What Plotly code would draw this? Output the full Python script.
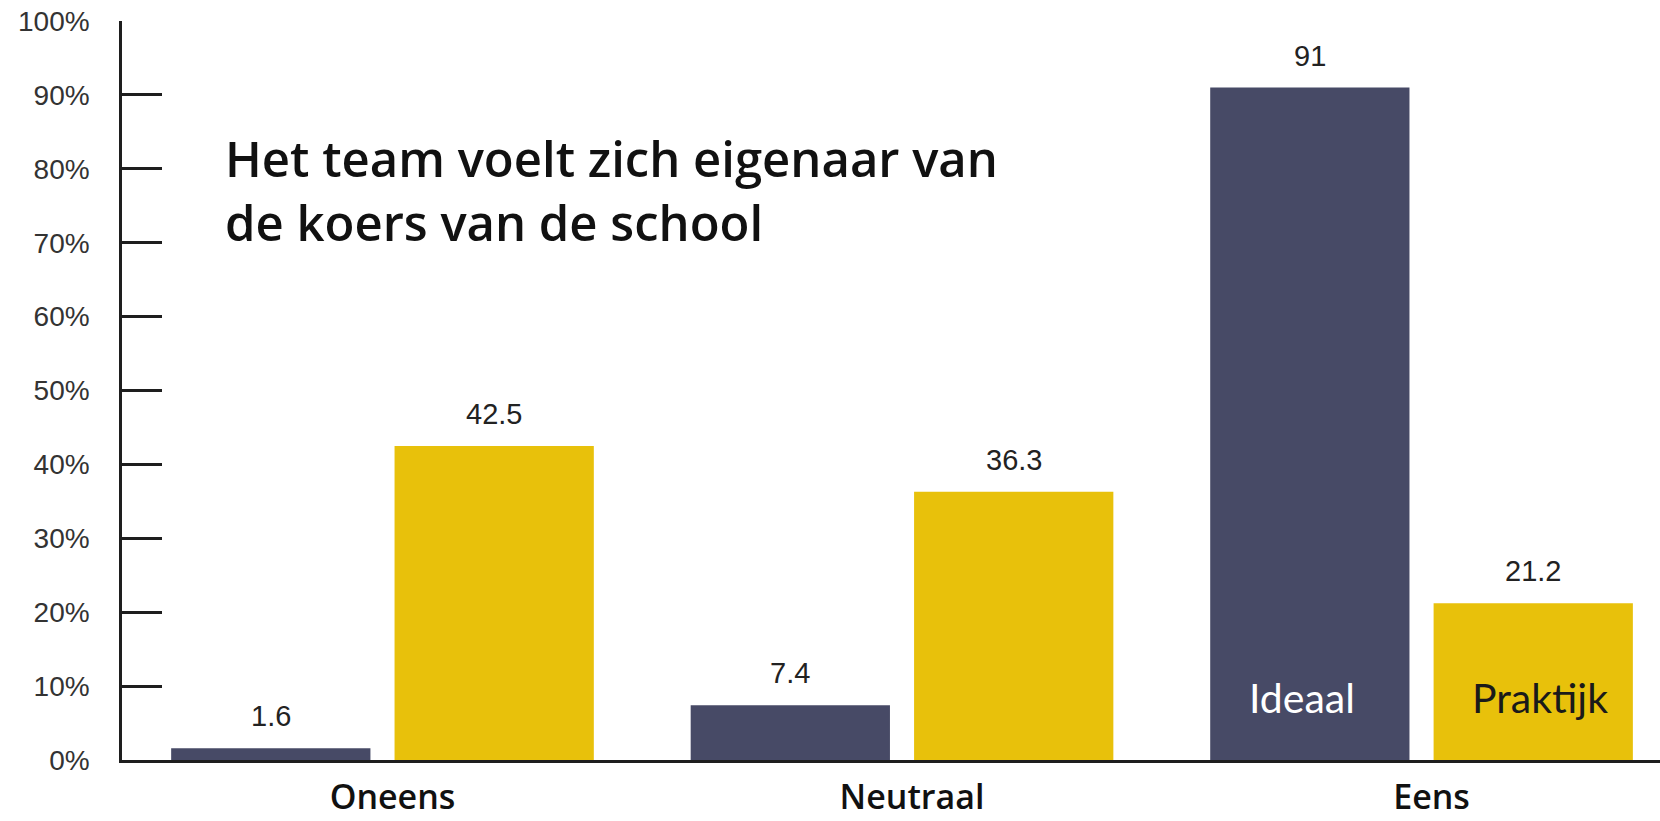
import plotly.graph_objects as go

# ---- data ----
categories = ["Oneens", "Neutraal", "Eens"]
series_names = ["Ideaal", "Praktijk"]
ideaal = [1.6, 7.4, 91]
praktijk = [42.5, 36.3, 21.2]
ideaal_labels = ["1.6", "7.4", "91"]
praktijk_labels = ["42.5", "36.3", "21.2"]
y_tickvals = [0, 10, 20, 30, 40, 50, 60, 70, 80, 90, 100]
y_ticktext = ["0%", "10%", "20%", "30%", "40%", "50%", "60%", "70%", "80%", "90%", "100%"]
title_text = "Het team voelt zich eigenaar van<br>de koers van de school"

# ---- style ----
DARK = "#474a66"
GOLD = "#e8c10b"
AXIS = "#1e1e1e"
BAR_OFFSET = 0.215  # half distance between paired bar centres (category units)
VALUE_FONT = dict(family="Liberation Sans, Arial, sans-serif", size=29, color="#222222")

fig = go.Figure()
fig.add_bar(x=categories, y=ideaal, name=series_names[0],
            marker=dict(color=DARK, line=dict(width=0)))
fig.add_bar(x=categories, y=praktijk, name=series_names[1],
            marker=dict(color=GOLD, line=dict(width=0)))

annotations = []
for i, (v, t) in enumerate(zip(ideaal, ideaal_labels)):
    annotations.append(dict(x=i - BAR_OFFSET, y=v, xref="x", yref="y", text=t,
                            showarrow=False, yanchor="bottom", yshift=14,
                            font=VALUE_FONT))
for i, (v, t) in enumerate(zip(praktijk, praktijk_labels)):
    annotations.append(dict(x=i + BAR_OFFSET, y=v, xref="x", yref="y", text=t,
                            showarrow=False, yanchor="bottom", yshift=14,
                            font=VALUE_FONT))

# series labels inside the "Eens" bars
annotations.append(dict(x=2 - 0.23, y=8.4, xref="x", yref="y", text=series_names[0],
                        showarrow=False, yanchor="middle",
                        font=dict(family="Lato, sans-serif", size=41, color="white",
                                  weight=400)))
annotations.append(dict(x=2 + 0.228, y=8.4, xref="x", yref="y", text=series_names[1],
                        showarrow=False, yanchor="middle",
                        font=dict(family="Lato, sans-serif", size=41, color="#1a1a1a",
                                  weight=400)))

# title inside plot
annotations.append(dict(x=0.0655, y=0.862, xref="paper", yref="paper",
                        text=title_text, showarrow=False, xanchor="left",
                        yanchor="top", align="left",
                        font=dict(family="Open Sans, sans-serif", size=49,
                                  color="#111111", weight=600)))

fig.update_layout(
    width=1660, height=821,
    margin=dict(l=122, r=0, t=21, b=61, pad=0, autoexpand=False),
    paper_bgcolor="white", plot_bgcolor="white",
    showlegend=False,
    barmode="group", bargap=0.14, bargroupgap=0.108,
    annotations=annotations,
)
fig.update_xaxes(
    type="category", range=[-0.5014, 2.459], automargin=False,
    showline=True, linecolor=AXIS, linewidth=2.5,
    ticks="", showgrid=False, zeroline=False,
    tickfont=dict(family="Open Sans, sans-serif", size=34, color="#111111", weight=600),
    ticklabelstandoff=5, ticklabelshift=10,
)
fig.update_yaxes(
    range=[0, 100], tickvals=y_tickvals, ticktext=y_ticktext, automargin=False,
    showline=True, linecolor=AXIS, linewidth=2.5,
    ticks="inside", ticklen=40, tickwidth=2.5, tickcolor=AXIS,
    showgrid=False, zeroline=False,
    tickfont=dict(family="Liberation Sans, Arial, sans-serif", size=28, color="#333333"),
    ticklabelstandoff=24,
)

fig.write_html("out.html", config={"displayModeBar": False},
               post_script="document.body.style.margin='0';")
